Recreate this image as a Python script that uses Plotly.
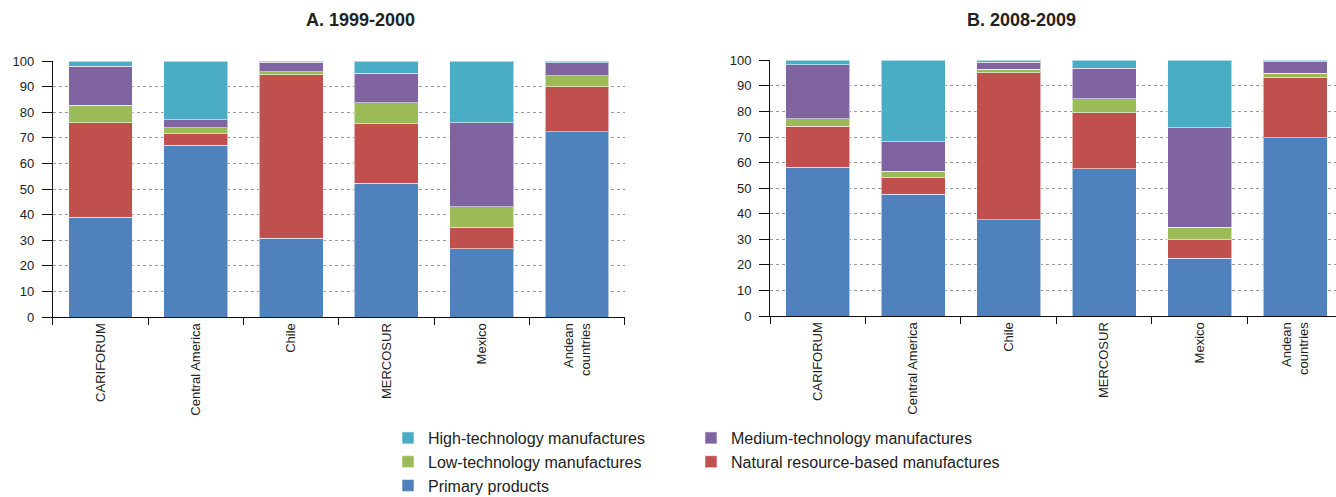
import plotly.graph_objects as go

categories = ["CARIFORUM", "Central America", "Chile", "MERCOSUR", "Mexico", "Andean<br>countries"]

series_names = ["Primary products", "Natural resource-based manufactures",
                "Low-technology manufactures", "Medium-technology manufactures",
                "High-technology manufactures"]

# Panel A: 1999-2000
a_primary = [38.9, 67.0, 30.8, 52.3, 26.7, 72.3]
a_natres = [37.0, 4.5, 63.9, 23.1, 8.3, 17.7]
a_low = [6.9, 2.4, 1.1, 8.3, 8.0, 4.3]
a_medium = [15.1, 3.2, 3.7, 11.5, 32.9, 5.0]
a_high = [2.1, 22.9, 0.5, 4.8, 24.1, 0.7]

# Panel B: 2008-2009
b_primary = [58.1, 47.7, 37.7, 57.6, 22.6, 69.8]
b_natres = [16.2, 6.3, 57.5, 21.9, 7.3, 23.4]
b_low = [2.8, 2.7, 1.3, 5.4, 4.8, 1.7]
b_medium = [21.2, 11.5, 2.8, 12.0, 39.0, 4.6]
b_high = [1.7, 31.8, 0.7, 3.1, 26.3, 0.5]

colors = ["#4F81BD", "#C0504D", "#9BBB59", "#8064A2", "#4BACC6"]
legend_of = ["legend", "legend2", "legend", "legend2", "legend"]

W, H = 1336, 497
FONT = "Liberation Sans, Arial, Helvetica, sans-serif"

fig = go.Figure()

panels = [
    ([a_primary, a_natres, a_low, a_medium, a_high], "x", "y", True),
    ([b_primary, b_natres, b_low, b_medium, b_high], "x2", "y2", False),
]
for vals, xa, ya, show in panels:
    for name, v, c, lg in zip(series_names, vals, colors, legend_of):
        fig.add_trace(go.Bar(
            x=categories, y=v, name=name, xaxis=xa, yaxis=ya,
            marker=dict(color=c, line=dict(color="rgba(255,255,255,0.55)", width=1)),
            showlegend=show, legend=lg, legendgroup=name,
        ))

def px_x(p):
    return p / W

def px_y(p):
    return (H - p) / H

xcommon = dict(
    type="category", showline=True, linecolor="#111", linewidth=1,
    ticks="outside", tickson="boundaries", ticklen=7, tickcolor="#111",
    tickangle=-90, tickfont=dict(family=FONT, size=13, color="#222"),
    showgrid=False, zeroline=False, fixedrange=True,
)
ycommon = dict(
    range=[0, 100], dtick=10, showline=True, linecolor="#111", linewidth=1,
    ticks="outside", ticklen=10, tickcolor="#111", ticklabelstandoff=5,
    tickfont=dict(family=FONT, size=13, color="#222"),
    showgrid=True, gridcolor="#9a9a9a", griddash="dot", gridwidth=1,
    zeroline=False, fixedrange=True,
)

leg_font = dict(family=FONT, size=16, color="#222")

fig.update_layout(
    width=W, height=H,
    margin=dict(l=0, r=0, t=0, b=0, autoexpand=False),
    paper_bgcolor="white", plot_bgcolor="white",
    barmode="stack", bargap=0.33,
    font=dict(family=FONT, color="#222"),
    xaxis=dict(xcommon, domain=[px_x(52.8), px_x(624.7)], anchor="y", range=[-0.5, 5.5]),
    yaxis=dict(ycommon, domain=[px_y(317), px_y(61)], anchor="x"),
    xaxis2=dict(xcommon, domain=[px_x(770), 1.0], anchor="y2", range=[-0.5, 5.427]),
    yaxis2=dict(ycommon, domain=[px_y(316), px_y(60.3)], anchor="x2"),
    legend=dict(x=px_x(388), y=px_y(421), xanchor="left", yanchor="top",
                orientation="v", traceorder="reversed", tracegroupgap=0,
                font=leg_font, bgcolor="rgba(0,0,0,0)"),
    legend2=dict(x=px_x(691), y=px_y(421), xanchor="left", yanchor="top",
                 orientation="v", traceorder="reversed", tracegroupgap=0,
                 font=leg_font, bgcolor="rgba(0,0,0,0)"),
    annotations=[
        dict(text="<b>A. 1999-2000</b>", x=px_x(360), y=px_y(20), xref="paper", yref="paper",
             xanchor="center", yanchor="middle",
             showarrow=False, font=dict(family=FONT, size=18, color="#222")),
        dict(text="<b>B. 2008-2009</b>", x=px_x(1022), y=px_y(20), xref="paper", yref="paper",
             xanchor="center", yanchor="middle",
             showarrow=False, font=dict(family=FONT, size=18, color="#222")),
    ],
)

fig.write_html("out.html")
